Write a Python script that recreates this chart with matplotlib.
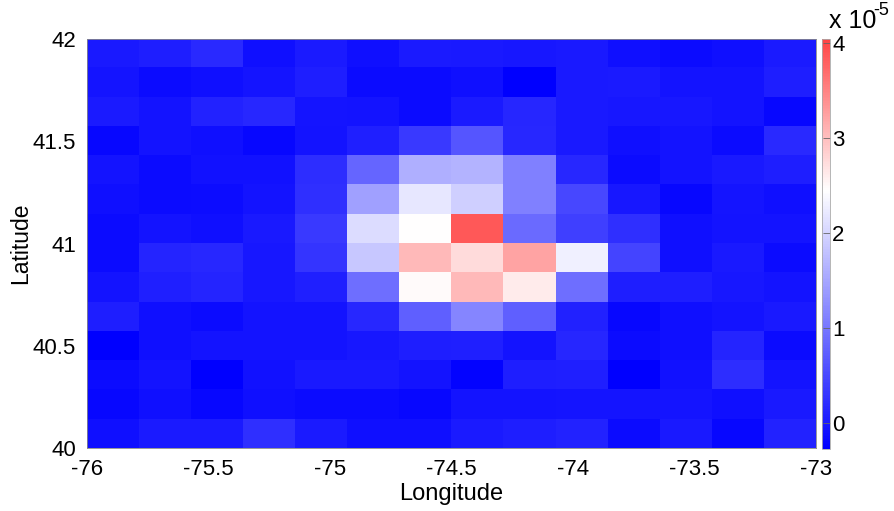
import numpy as np
import matplotlib
matplotlib.use("Agg")
import matplotlib.pyplot as plt
from matplotlib.colors import LinearSegmentedColormap

plt.rcParams['font.family'] = ['Liberation Sans', 'DejaVu Sans']

# values in units of 1e-5, rows listed from north (42) to south (40)
row00 = [0.01, 0.05, 0.18, -0.10, 0.03, -0.10, 0.03, 0.01, -0.01, 0.01, -0.10, -0.14, -0.10, 0.03]
row01 = [-0.04, -0.14, -0.10, -0.04, 0.05, -0.14, -0.14, -0.10, -0.27, 0.01, 0.03, -0.06, -0.06, 0.05]
row02 = [0.03, -0.06, 0.11, 0.16, -0.04, -0.06, -0.14, 0.03, 0.14, 0.01, -0.01, -0.01, -0.06, -0.18]
row03 = [-0.18, -0.06, -0.10, -0.18, -0.06, 0.07, 0.35, 0.64, 0.16, 0.01, -0.10, -0.06, -0.14, 0.18]
row04 = [-0.06, -0.14, -0.08, -0.08, 0.22, 0.82, 1.61, 1.64, 1.10, 0.16, -0.14, -0.06, 0.01, 0.05]
row05 = [-0.10, -0.14, -0.12, -0.06, 0.24, 1.44, 2.20, 1.95, 1.10, 0.50, -0.01, -0.18, -0.04, -0.10]
row06 = [-0.14, -0.06, -0.10, 0.01, 0.35, 2.08, 2.45, 3.86, 0.86, 0.41, 0.24, -0.10, -0.06, -0.06]
row07 = [-0.14, 0.12, 0.16, -0.01, 0.30, 1.86, 3.04, 2.76, 3.23, 2.29, 0.47, -0.10, 0.01, -0.14]
row08 = [-0.06, 0.07, 0.12, -0.01, 0.07, 0.92, 2.49, 3.04, 2.62, 0.92, 0.05, 0.05, -0.01, -0.06]
row09 = [0.05, -0.10, -0.14, -0.06, -0.06, 0.16, 0.75, 1.15, 0.75, 0.09, -0.18, -0.10, -0.06, 0.01]
row10 = [-0.27, -0.10, -0.06, -0.06, -0.06, -0.01, 0.05, 0.07, -0.06, 0.14, -0.14, -0.10, 0.12, -0.14]
row11 = [-0.14, -0.06, -0.27, -0.08, 0.01, 0.01, -0.06, -0.23, 0.05, 0.07, -0.27, -0.08, 0.22, -0.06]
row12 = [-0.18, -0.10, -0.18, -0.10, -0.14, -0.14, -0.18, -0.06, -0.06, -0.04, -0.04, -0.04, -0.10, 0.01]
row13 = [-0.10, 0.03, 0.03, 0.24, 0.03, -0.10, -0.10, 0.03, 0.05, 0.11, -0.14, 0.01, -0.18, 0.11]

xticks = [-76, -75.5, -75, -74.5, -74, -73.5, -73]
yticks = [40, 40.5, 41, 41.5, 42]
cticks = [0, 1, 2, 3, 4]

vmin, vmax, vwhite = -0.27, 4.04, 2.45

grid = np.array([row00, row01, row02, row03, row04, row05, row06,
                 row07, row08, row09, row10, row11, row12, row13])

wpos = (vwhite - vmin) / (vmax - vmin)
cmap = LinearSegmentedColormap.from_list(
    "bwr_shift", [(0.0, (0, 0, 1)), (wpos, (1, 1, 1)), (1.0, (1, 0.27, 0.27))])

fig = plt.figure(figsize=(8.95, 5.11), dpi=100)
ax = fig.add_axes([0.0972, 0.1227, 0.8142, 0.801])
im = ax.imshow(grid, cmap=cmap, vmin=vmin, vmax=vmax, extent=[-76, -73, 40, 42],
               aspect='auto', origin='upper', interpolation='nearest')
ax.set_xticks(xticks)
ax.set_xticklabels(["%g" % v for v in xticks])
ax.set_yticks(yticks)
ax.set_yticklabels(["%g" % v for v in yticks])
ax.tick_params(direction='in', length=0, labelsize=16, pad=8)
for s in ax.spines.values():
    s.set_color('#888888')
    s.set_linewidth(0.6)
ax.set_xlabel("Longitude", fontsize=17, labelpad=2)
ax.set_ylabel("Latitude", fontsize=16.5, labelpad=0)

cax = fig.add_axes([0.918, 0.1213, 0.0089, 0.8024])
cb = fig.colorbar(im, cax=cax, ticks=cticks)
cb.ax.tick_params(direction='in', length=5, width=0.6, color='#666666',
                  labelsize=16, pad=2)
cb.outline.set_edgecolor('#aaaaaa')
cb.outline.set_linewidth(0.6)
# scale factor label, drawn as "x 10" with a raised "-5"
fig.text(0.926, 0.935, "x 10", fontsize=18, ha='left', va='bottom')
fig.text(0.976, 0.962, "-5", fontsize=13, ha='left', va='bottom')

plt.savefig("out.png", dpi=100)
